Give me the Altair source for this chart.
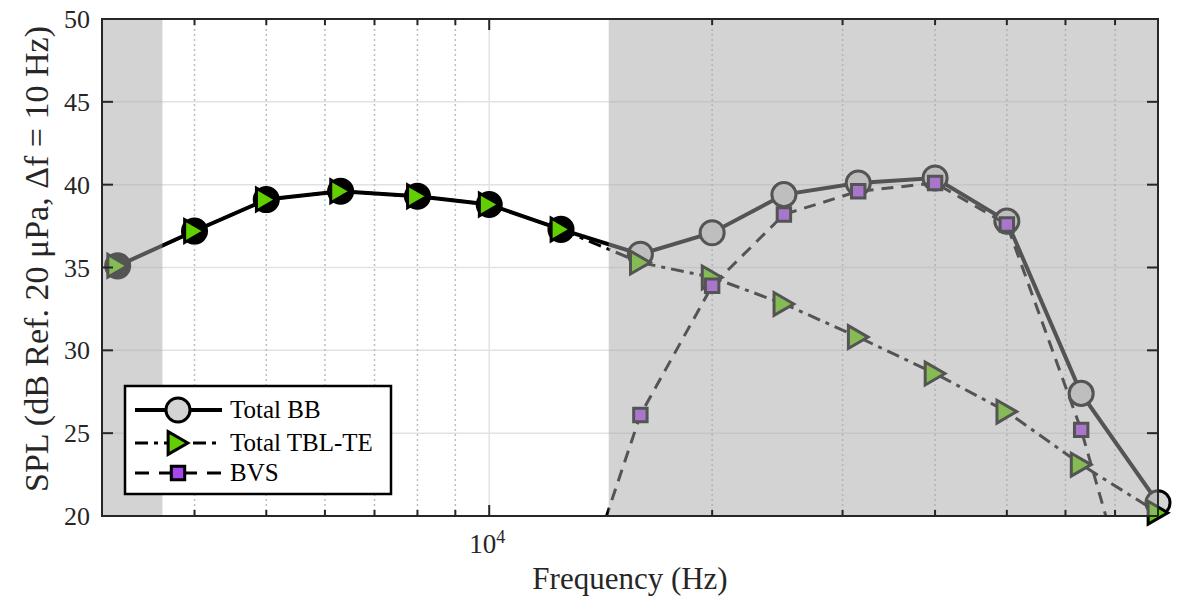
import altair as alt
import pandas as pd

# ---------------- data ----------------
freqs = [3150, 4000, 5000, 6300, 8000, 10000, 12500, 16000, 20000, 25000, 31500, 40000, 50000, 63000, 80000]
total_bb = [35.1, 37.2, 39.1, 39.6, 39.3, 38.8, 37.3, 35.8, 37.1, 39.4, 40.1, 40.4, 37.8, 27.4, 20.8]
total_tbl = [35.1, 37.2, 39.1, 39.6, 39.3, 38.8, 37.3, 35.3, 34.4, 32.8, 30.8, 28.6, 26.3, 23.1, 20.2]
bvs_freqs = [12500, 16000, 20000, 25000, 31500, 40000, 50000, 63000, 80000]
bvs = [11.8, 26.1, 33.9, 38.2, 39.6, 40.1, 37.6, 25.2, 9.0]

shade_start = [3000, 14500]
shade_end = [3620, 80000]

x_domain = [3000, 80000]
y_domain = [20, 50]
y_ticks = [20, 25, 30, 35, 40, 45, 50]
y_inner_ticks = [25, 30, 35, 40, 45]
x_major = [10000]
x_major_base = ["10"]
x_major_exp = ["4"]
x_minor = [4000, 5000, 6000, 7000, 8000, 9000, 20000, 30000, 40000, 50000, 60000, 70000]
legend_labels = ["Total BB", "Total TBL-TE", "BVS"]

x_title = "Frequency (Hz)"
y_title = "SPL (dB Ref. 20 μPa, Δf = 10 Hz)"

# ---------------- style ----------------
W, H = 1056, 497
FONT = "Liberation Serif"
INK = "#262626"
GREEN = "#62cf00"
PURPLE = "#a846ee"
LIGHT = "#d4d4d4"

xs = alt.Scale(type="log", domain=x_domain, nice=False)
ys = alt.Scale(domain=y_domain, nice=False, zero=False)

df_bb = pd.DataFrame({"freq": freqs, "spl": total_bb})
df_tbl = pd.DataFrame({"freq": freqs, "spl": total_tbl})
df_bvs = pd.DataFrame({"freq": bvs_freqs, "spl": bvs})
df_shade = pd.DataFrame({"start": shade_start, "end": shade_end})


def X(f="freq"):
    return alt.X(f"{f}:Q", scale=xs, axis=None)


def Y(f="spl"):
    return alt.Y(f"{f}:Q", scale=ys, axis=None)


one = pd.DataFrame({"a": [0]})

# grid
grid_h = alt.Chart(pd.DataFrame({"y": y_ticks})).mark_rule(color="#e2e2e2", strokeWidth=1.5).encode(y=Y("y"))
grid_vmaj = alt.Chart(pd.DataFrame({"x": x_major})).mark_rule(color="#e2e2e2", strokeWidth=1.5).encode(x=X("x"))
grid_vmin = alt.Chart(pd.DataFrame({"x": x_minor})).mark_rule(
    color="#bdbdbd", strokeWidth=1.5, strokeDash=[2, 3]).encode(x=X("x"))

# series
bb_line = alt.Chart(df_bb).mark_line(color="black", strokeWidth=4, clip=True).encode(x=X(), y=Y())
bb_pts = alt.Chart(df_bb).mark_point(
    shape="circle", filled=True, size=580, stroke="black", strokeWidth=3, opacity=1).encode(
    x=X(), y=Y(),
    fill=alt.condition(f"datum.freq < {shade_start[1]}", alt.value("black"), alt.value(LIGHT)))
tbl_line = alt.Chart(df_tbl).mark_line(color="black", strokeWidth=3, strokeDash=[13, 6, 4, 6], clip=True).encode(x=X(), y=Y())
tbl_pts = alt.Chart(df_tbl).mark_point(
    shape="triangle-right", filled=True, size=520, fill=GREEN, stroke="black", strokeWidth=3, opacity=1).encode(x=X(), y=Y())
bvs_line = alt.Chart(df_bvs).mark_line(color="black", strokeWidth=3, strokeDash=[12, 8], clip=True).encode(x=X(), y=Y())
bvs_pts = alt.Chart(df_bvs).transform_filter(f"datum.spl >= {y_domain[0]}").mark_point(
    shape="square", filled=True, size=180, fill=PURPLE, stroke="black", strokeWidth=3, opacity=1).encode(x=X(), y=Y())

# shaded regions (semi-transparent overlay)
shade = alt.Chart(df_shade).mark_rect(color="#a8a8a8", opacity=0.5).encode(
    x=X("start"), x2="end:Q", y=alt.value(0), y2=alt.value(H))

# frame and inward ticks
frame = alt.Chart(one).mark_rect(fillOpacity=0, stroke=INK, strokeWidth=2).encode(
    x=alt.value(0), x2=alt.value(W), y=alt.value(0), y2=alt.value(H))
df_xmaj = pd.DataFrame({"x": x_major, "base": x_major_base, "exp": x_major_exp})
df_xmin = pd.DataFrame({"x": x_minor})
df_yt = pd.DataFrame({"y": y_inner_ticks})
tick_style = dict(color=INK, strokeWidth=2)
ticks = [
    alt.Chart(df_xmaj).mark_rule(**tick_style).encode(x=X("x"), y=alt.value(H), y2=alt.value(H - 11)),
    alt.Chart(df_xmaj).mark_rule(**tick_style).encode(x=X("x"), y=alt.value(0), y2=alt.value(11)),
    alt.Chart(df_xmin).mark_rule(**tick_style).encode(x=X("x"), y=alt.value(H), y2=alt.value(H - 6)),
    alt.Chart(df_xmin).mark_rule(**tick_style).encode(x=X("x"), y=alt.value(0), y2=alt.value(6)),
    alt.Chart(df_yt).mark_rule(**tick_style).encode(y=Y("y"), x=alt.value(0), x2=alt.value(11)),
    alt.Chart(df_yt).mark_rule(**tick_style).encode(y=Y("y"), x=alt.value(W), x2=alt.value(W - 11)),
]

# tick labels and axis titles
ylab = alt.Chart(pd.DataFrame({"y": y_ticks})).mark_text(
    font=FONT, fontSize=26, align="right", baseline="alphabetic", dy=9, color=INK).encode(
    y=Y("y"), x=alt.value(-12), text="y:Q")
xlab_base = alt.Chart(df_xmaj).mark_text(
    font=FONT, fontSize=27, align="right", baseline="alphabetic", dx=7, color=INK).encode(
    x=X("x"), y=alt.value(H + 37), text="base:N")
xlab_exp = alt.Chart(df_xmaj).mark_text(
    font=FONT, fontSize=18, align="left", baseline="alphabetic", dx=7, color=INK).encode(
    x=X("x"), y=alt.value(H + 27), text="exp:N")
xtit = alt.Chart(pd.DataFrame({"t": [x_title]})).mark_text(
    font=FONT, fontSize=31, align="center", baseline="alphabetic", color=INK).encode(
    x=alt.value(W / 2), y=alt.value(H + 73), text="t:N")
ytit = alt.Chart(pd.DataFrame({"t": [y_title]})).mark_text(
    font=FONT, fontSize=34, align="center", baseline="alphabetic", angle=270, color=INK).encode(
    x=alt.value(-54), y=alt.value(240), text="t:N")

# legend (drawn by hand, inside the plot, lower left)
LX0, LX1, LY0, LY1 = 23, 289, 367, 475
rows = [391, 424, 454]
seg0, seg1, mx, tx = 33, 120, 76, 128
leg = [alt.Chart(one).mark_rect(fill="white", stroke="black", strokeWidth=2.5).encode(
    x=alt.value(LX0), x2=alt.value(LX1), y=alt.value(LY0), y2=alt.value(LY1))]
line_styles = [dict(strokeWidth=4), dict(strokeWidth=3, strokeDash=[13, 6, 4, 6]), dict(strokeWidth=3, strokeDash=[14, 10])]
sym_styles = [dict(shape="circle", size=580, fill=LIGHT), dict(shape="triangle-right", size=520, fill=GREEN),
              dict(shape="square", size=180, fill=PURPLE)]
for lab, ry, ls, ss in zip(legend_labels, rows, line_styles, sym_styles):
    d = pd.DataFrame({"label": [lab]})
    leg.append(alt.Chart(d).mark_rule(color="black", **ls).encode(
        x=alt.value(seg0), x2=alt.value(seg1), y=alt.value(ry)))
    leg.append(alt.Chart(d).mark_point(filled=True, stroke="black", strokeWidth=3, opacity=1, **ss).encode(
        x=alt.value(mx), y=alt.value(ry)))
    leg.append(alt.Chart(d).mark_text(font=FONT, fontSize=25, align="left", baseline="alphabetic", dy=8, color="black").encode(
        x=alt.value(tx), y=alt.value(ry), text="label:N"))

chart = alt.layer(
    grid_h, grid_vmaj, grid_vmin,
    bb_line, bb_pts, tbl_line, tbl_pts, bvs_line, bvs_pts,
    shade, frame, *ticks, ylab, xlab_base, xlab_exp, xtit, ytit, *leg,
).properties(
    width=W, height=H,
    autosize=alt.AutoSizeParams(type="none"),
    padding={"left": 94, "top": 11, "right": 15, "bottom": 80},
    background="white",
).configure_view(stroke=None)

chart.save("out.html", embed_options={"renderer": "svg", "actions": False})
